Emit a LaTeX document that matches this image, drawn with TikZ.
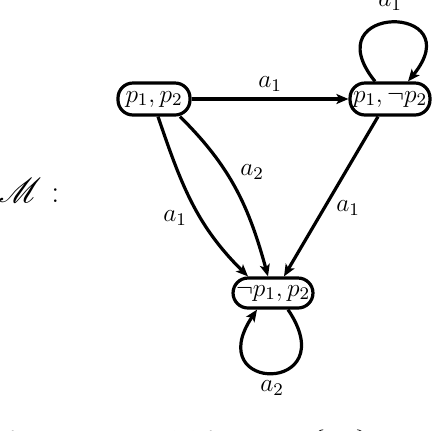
\RequirePackage{fix-cm}
\documentclass[tikz,border=0pt]{standalone}
\usepackage{amssymb}
\usepackage{mathrsfs}
\usetikzlibrary{arrows.meta}
\begin{document}
\begin{tikzpicture}[x=0.5pt,y=-0.5pt,
  font=\fontsize{12.7}{15}\selectfont,
  st/.style={draw, line width=1.6pt, rounded corners=7.5pt, inner xsep=1.5pt, inner ysep=0pt, minimum height=16pt},
  edge/.style={line width=1.6pt, -{Stealth[length=6pt,width=5pt,inset=1.4pt]}},
  lab/.style={inner sep=1pt}]
\useasboundingbox (0,0) rectangle (432,430);

\node[st, minimum width=36pt] (n1) at (154,99) {$p_1,p_2$};
\node[st] (n2) at (390,99) {$p_1,\neg p_2$};
\node[st, minimum height=15pt] (n3) at (273,293) {$\neg p_1,p_2$};

\node[font=\fontsize{16}{18}\selectfont, inner sep=0pt] (m) at (29,190) {$\mathscr{M}$\ :};

% n1 -> n2
\draw[edge] (n1) -- node[lab, above=2pt] {$a_1$} (n2);
% loop on n2
\draw[edge] ([xshift=-7.5pt]n2.north) .. controls (312,3) and (472,3) .. ([xshift=9pt]n2.north);
\node[lab] (l2) at (390,3) {$a_1$};
% n1 -> n3 (a1)
\draw[edge] ([xshift=2pt]n1.south) .. controls (181,184) and (196,225) .. ([xshift=-12.5pt]n3.north);
\node[lab] (l3) at (175,218) {$a_1$};
% n1 -> n3 (a2)
\draw[edge] ([xshift=13pt]n1.south) .. controls (231,167) and (249,207) .. ([xshift=-2.5pt]n3.north);
\node[lab] (l4) at (252,172) {$a_2$};
% n2 -> n3
\draw[edge] ([xshift=-6pt]n2.south) -- ([xshift=5.5pt]n3.north);
\node[lab] (l5) at (348,208) {$a_1$};
% loop on n3
\draw[edge] ([xshift=7.5pt]n3.south) .. controls (345,394) and (200,394) .. ([xshift=-8pt]n3.south);
\node[lab] (l6) at (272,388) {$a_2$};

% cut-off caption
\node[anchor=base west, inner sep=0pt, font=\fontsize{13}{15}\selectfont] (cap) at (6,449) {for BDI, a model for $\mathscr{K}$ to $\{\ldots\}$};
\end{tikzpicture}
\end{document}
